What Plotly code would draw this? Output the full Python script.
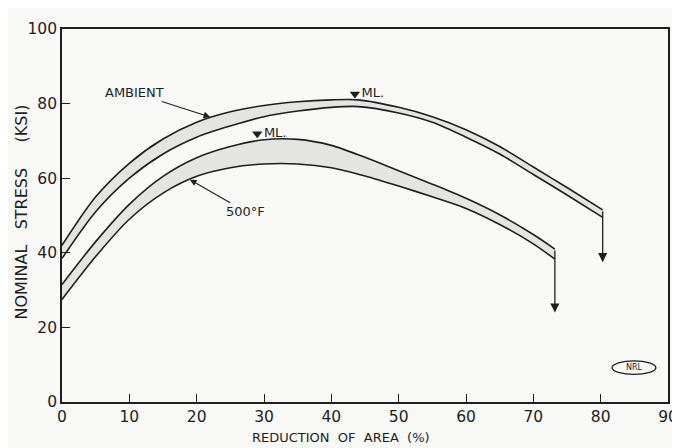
import plotly.graph_objects as go

# ---- data ----
amb_x = [0, 5, 10, 15, 20, 25, 30, 35, 40, 44, 50, 55, 60, 65, 70, 75, 80.3]
amb_upper = [42, 55, 64, 70.5, 75, 77.8, 79.5, 80.5, 81, 81, 79, 76.5, 73, 68.5, 63, 57.5, 51.5]
amb_lower = [38.5, 51, 60, 66.5, 71, 74, 76.5, 78, 79, 79.2, 77.5, 75, 71, 66.5, 61, 55.5, 49.5]

hot_x = [0, 5, 10, 15, 20, 25, 30, 35, 40, 45, 50, 55, 60, 65, 70, 73.2]
hot_upper = [31.5, 43, 53, 60.5, 65.5, 68.5, 70.3, 70.4, 68.8, 65.6, 62.0, 58.4, 54.6, 50.2, 44.9, 41]
hot_lower = [27.5, 39, 49, 56, 60.5, 62.8, 63.8, 63.8, 62.8, 60.6, 57.9, 55.0, 51.9, 47.6, 42.4, 38.3]

amb_fracture_tip = 37.5
hot_fracture_tip = 24
ml_x = [43.5, 29]
ml_y = [82.6, 71.9]

x_ticks = [0, 10, 20, 30, 40, 50, 60, 70, 80, 90]
y_ticks = [0, 20, 40, 60, 80, 100]

INK = "#1e1e1e"
BAND = "rgba(170,170,170,0.26)"
FONT = "DejaVu Sans"

fig = go.Figure()

def band(x, lo, hi):
    fig.add_trace(go.Scatter(x=x, y=lo, mode="lines", line=dict(color=INK, width=1.6, shape="spline", smoothing=0.8),
                             showlegend=False, hoverinfo="skip"))
    fig.add_trace(go.Scatter(x=x, y=hi, mode="lines", line=dict(color=INK, width=1.6, shape="spline", smoothing=0.8),
                             fill="tonexty", fillcolor=BAND, showlegend=False, hoverinfo="skip"))

band(amb_x, amb_lower, amb_upper)
band(hot_x, hot_lower, hot_upper)

# ML markers
fig.add_trace(go.Scatter(x=ml_x, y=ml_y, mode="markers+text", text=["ML.", "ML."],
                         textposition="middle right",
                         textfont=dict(family=FONT, size=13, color=INK),
                         marker=dict(symbol="triangle-down", size=9, color=INK),
                         showlegend=False, hoverinfo="skip"))

# fracture arrows
for xe, ytop, ytip in [(amb_x[-1], amb_upper[-1], amb_fracture_tip), (hot_x[-1], hot_upper[-1], hot_fracture_tip)]:
    fig.add_annotation(x=xe, y=ytip, ax=xe, ay=ytop, xref="x", yref="y", axref="x", ayref="y",
                       showarrow=True, arrowhead=2, arrowsize=1.4, arrowwidth=1.3, arrowcolor=INK, text="")

# curve labels
fig.add_annotation(x=22, y=76.4, ax=10.7, ay=83, xref="x", yref="y", axref="x", ayref="y",
                   text="AMBIENT", showarrow=True, arrowhead=2, arrowsize=1.2, arrowwidth=1.1,
                   arrowcolor=INK, font=dict(family=FONT, size=13, color=INK))
fig.add_annotation(x=19, y=59.6, ax=27.3, ay=51, xref="x", yref="y", axref="x", ayref="y",
                   text="500°F", showarrow=True, arrowhead=2, arrowsize=1.2, arrowwidth=1.1,
                   arrowcolor=INK, font=dict(family=FONT, size=13, color=INK))

# NRL logo
fig.add_shape(type="circle", xref="x", yref="y", x0=81.7, x1=88.2, y0=7.4, y1=11.0,
              line=dict(color=INK, width=1.3))
fig.add_annotation(x=84.95, y=9.2, xref="x", yref="y", text="NRL", showarrow=False,
                   font=dict(family=FONT, size=8, color=INK))

# axis titles (placed as in the reference)
fig.add_annotation(x=-0.067, y=0.509, xref="paper", yref="paper", xanchor="center", yanchor="middle",
                   text="NOMINAL   STRESS     (KSI)",
                   textangle=-90, showarrow=False, font=dict(family=FONT, size=16, color=INK))
fig.add_annotation(x=0.461, y=-0.094, xref="paper", yref="paper", xanchor="center", yanchor="middle",
                   text="REDUCTION  OF  AREA  (%)",
                   showarrow=False, font=dict(family=FONT, size=13, color=INK))

axis_common = dict(showline=True, linecolor=INK, linewidth=1.6, mirror=True, ticks="inside",
                   ticklen=8, tickwidth=1.3, tickcolor=INK, showgrid=False, zeroline=False,
                   automargin=False, ticklabeloverflow="allow",
                   tickfont=dict(family=FONT, size=15.5, color=INK))

# the page puts the figure 8 px from the top-left corner of the window
fig.update_layout(
    width=672, height=440,
    margin=dict(l=54, r=12, t=21, b=46),
    paper_bgcolor="#f8f8f6", plot_bgcolor="#f8f8f6",
    xaxis=dict(range=[0, 90], tickvals=x_ticks, ticktext=[str(v) for v in x_ticks], **axis_common),
    yaxis=dict(range=[0, 100], tickvals=y_ticks, ticktext=[str(v) for v in y_ticks], **axis_common),
)

fig.write_html("out.html")
